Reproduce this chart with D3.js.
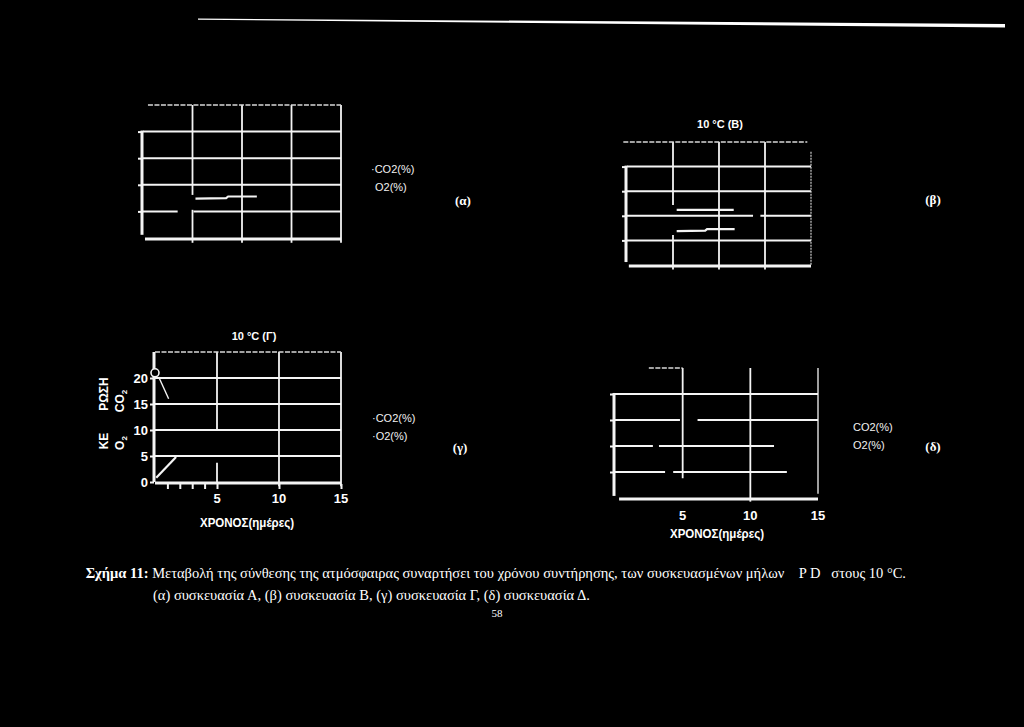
<!DOCTYPE html>
<html>
<head>
<meta charset="utf-8">
<script src="https://cdn.jsdelivr.net/npm/d3@7"></script>
<style>
  html, body { margin: 0; padding: 0; background: #000; }
  svg { display: block; }
  .narrow { font-family: "Liberation Sans Narrow", "Arial Narrow", "Liberation Sans", sans-serif; font-weight: bold; fill: #fff; }
  .sans { font-family: "Liberation Sans", Arial, sans-serif; fill: #f2f2f2; }
  .serif { font-family: "Liberation Serif", "Times New Roman", serif; fill: #fff; }
</style>
</head>
<body>
<div id="fig"></div>
<script>
// ------------------------
// values (days on x, % on y)
// ------------------------
const gridValues = [5, 10, 15, 20];          // horizontal grid lines
const dayGridLong = [5, 10, 15, 20];         // panels (α), (β)
const dayGridShort = [5, 10, 15];            // panels (γ), (δ)
const yTickLabels = [0, 5, 10, 15, 20];      // only readable on (γ)
const xTickLabels = [5, 10, 15];
const dayMinorTicks = [1, 2, 3, 4];
const legendSeries = ["CO2(%)", "O2(%)"];

// what is left of the curves in the scan
const o2A = [[5.3, 7.4], [8.4, 7.5], [8.6, 7.8], [11.5, 7.8]];
const o2B = [[5.4, 11.2], [11.6, 11.2]];
const co2B = [[5.4, 6.9], [8.5, 7.0], [8.7, 7.3], [11.7, 7.3]];
const o2G = [[0.3, 20.2], [1.1, 16]];
const co2G = [[0.1, 0.8], [1.7, 4.8]];
const startG = [[0, 21]];

// broken grid pieces: [value, from, to]
const hGridA = [[20, 0, 20], [15, 0, 20], [10, 0, 20], [5, 0, 3.5], [5, 5.1, 20]];
const vGridA = [[5, 25, 8.1], [5, 5.3, -0.9], [10, 25, -0.9], [15, 25, -0.9], [20, 25, -0.9]];
const hGridB = [[20, 0, 20], [15, 0, 20], [10, 0, 13.7], [10, 14.5, 20], [5, 0, 20]];
const vGridB = [[5, 25, 12.2], [5, 6.1, -0.9], [10, 25, -0.9], [15, 25, -0.9]];
const hGridG = [[20, 0, 15], [15, 0, 15], [10, 0, 15], [5, 0, 15]];
const vGridG = [[5, 25, 10], [5, 3.7, 0], [10, 25, -0.8], [15, 25, -0.8]];
const hGridD = [[20, 0, 15], [15, 0, 4.8], [15, 6.1, 15], [10, 0, 2.8], [10, 3.25, 11.75], [5, 0, 3.7], [5, 4.3, 12.7]];
const vGridD = [[5, 25, 3.8], [10, 25, -0.7]];

const figLabels = ["(α)", "(β)", "(γ)", "(δ)"];
const captionLine1 = ["Σχήμα 11:", " Μεταβολή της σύνθεσης της ατμόσφαιρας συναρτήσει του χρόνου συντήρησης, των συσκευασμένων μήλων    P D   στους 10 °C."];
const captionLine2 = "(α) συσκευασία Α, (β) συσκευασία Β, (γ) συσκευασία Γ, (δ) συσκευασία Δ.";
const pageNumber = "58";

// ------------------------
// layout of the four small plots
// ------------------------
const panels = {
  a: { x: [143, 341], y: [238, 105], xMax: 20 },
  b: { x: [627, 811], y: [265, 142], xMax: 20 },
  g: { x: [155, 341], y: [482, 352], xMax: 15 },
  d: { x: [615, 818], y: [498, 368], xMax: 15 }
};
Object.values(panels).forEach(p => {
  p.sx = d3.scaleLinear().domain([0, p.xMax]).range(p.x);
  p.sy = d3.scaleLinear().domain([0, 25]).range(p.y);
});

const svg = d3.select("#fig").append("svg")
  .attr("width", 1024).attr("height", 727)
  .style("background", "#000");

// scanned rule at the top of the page
svg.append("polygon")
  .attr("points", "198,18.5 1005,24 1005,27.5 198,19.8")
  .attr("fill", "#fff");

const white = "#f4f4f4";

function hGrid(p, rows, w) {
  svg.append("g").selectAll("line").data(rows).join("line")
    .attr("x1", d => p.sx(d[1])).attr("x2", d => p.sx(d[2]))
    .attr("y1", d => p.sy(d[0])).attr("y2", d => p.sy(d[0]))
    .attr("stroke", white).attr("stroke-width", w || 2);
}
function vGrid(p, cols, w) {
  svg.append("g").selectAll("line").data(cols).join("line")
    .attr("x1", d => p.sx(d[0])).attr("x2", d => p.sx(d[0]))
    .attr("y1", d => p.sy(d[1])).attr("y2", d => p.sy(d[2]))
    .attr("stroke", white).attr("stroke-width", w || 1.8);
}
function frame(p, opts) {
  // y axis
  svg.append("line")
    .attr("x1", p.sx(0) - 1).attr("x2", p.sx(0) - 1)
    .attr("y1", p.sy(opts.yTop)).attr("y2", p.sy(opts.yBottom))
    .attr("stroke", white).attr("stroke-width", 3);
  svg.append("g").attr("transform", `translate(${p.sx(0) - 1},0)`)
    .call(d3.axisLeft(p.sy).tickValues(opts.yTicks).tickSize(4).tickFormat(opts.yFormat || (() => "")))
    .call(g => g.select(".domain").remove())
    .call(g => g.selectAll(".tick line").attr("stroke", white).attr("stroke-width", 2))
    .call(g => g.selectAll(".tick text").attr("class", "narrow").attr("fill", "#fff")
      .style("font-size", "13px").attr("x", -6));
  // x axis
  svg.append("line")
    .attr("x1", p.sx(opts.xStart)).attr("x2", p.sx(p.xMax))
    .attr("y1", p.sy(0) + 1).attr("y2", p.sy(0) + 1)
    .attr("stroke", white).attr("stroke-width", 3);
  // dashed top border
  svg.append("line")
    .attr("x1", p.sx(opts.top[0])).attr("x2", p.sx(opts.top[1]))
    .attr("y1", p.sy(25)).attr("y2", p.sy(25))
    .attr("stroke", "#d8d8d8").attr("stroke-width", 1.6).attr("stroke-dasharray", "5,1.5");
}

const lineGen = p => d3.line().x(d => p.sx(d[0])).y(d => p.sy(d[1]));

// ---------- (α)
const A = panels.a;
hGrid(A, hGridA);
vGrid(A, vGridA);
frame(A, { yTop: 20.2, yBottom: 0.6, yTicks: gridValues, xStart: 0.2, top: [0.5, 20] });
svg.append("path").datum(o2A).attr("d", lineGen(A))
  .attr("fill", "none").attr("stroke", white).attr("stroke-width", 2.2);

// ---------- (β)
const B = panels.b;
hGrid(B, hGridB);
vGrid(B, vGridB);
frame(B, { yTop: 20.2, yBottom: 0.6, yTicks: gridValues, xStart: 0.2, top: [-0.4, 19.6] });
svg.append("line")
  .attr("x1", B.sx(20)).attr("x2", B.sx(20))
  .attr("y1", B.sy(23)).attr("y2", B.sy(0))
  .attr("stroke", "#cfcfcf").attr("stroke-width", 1.2).attr("stroke-dasharray", "2,1");
[o2B, co2B].forEach(s => svg.append("path").datum(s).attr("d", lineGen(B))
  .attr("fill", "none").attr("stroke", white).attr("stroke-width", 2.2));
svg.append("text").attr("class", "narrow").attr("x", 720).attr("y", 128)
  .attr("text-anchor", "middle").style("font-size", "11px").text("10 °C (B)");

// ---------- (γ)
const G = panels.g;
hGrid(G, hGridG);
vGrid(G, vGridG);
frame(G, { yTop: 25, yBottom: 0, yTicks: yTickLabels, yFormat: d3.format("d"), xStart: 0, top: [0, 15] });
svg.append("g").attr("transform", `translate(0,${G.sy(0) + 2})`)
  .call(d3.axisBottom(G.sx).tickValues(dayMinorTicks.concat(xTickLabels)).tickSize(5).tickFormat(() => ""))
  .call(g => g.select(".domain").remove())
  .call(g => g.selectAll(".tick line").attr("stroke", white).attr("stroke-width", 2));
svg.append("g").selectAll("text").data(xTickLabels).join("text")
  .attr("class", "narrow").attr("x", d => G.sx(d)).attr("y", G.sy(0) + 21)
  .attr("text-anchor", "middle").style("font-size", "13px").text(d => d);
svg.append("path").datum(o2G).attr("d", lineGen(G))
  .attr("fill", "none").attr("stroke", white).attr("stroke-width", 1.4);
svg.append("path").datum(co2G).attr("d", lineGen(G))
  .attr("fill", "none").attr("stroke", white).attr("stroke-width", 2.2);
svg.append("g").selectAll("circle").data(startG).join("circle")
  .attr("cx", d => G.sx(d[0])).attr("cy", d => G.sy(d[1])).attr("r", 4)
  .attr("fill", "#000").attr("stroke", white).attr("stroke-width", 1.6);
svg.append("text").attr("class", "narrow").attr("x", 254).attr("y", 340)
  .attr("text-anchor", "middle").style("font-size", "11px").text("10 °C (Γ)");
svg.append("text").attr("class", "narrow").attr("x", 200).attr("y", 527)
  .attr("textLength", 94).attr("lengthAdjust", "spacingAndGlyphs")
  .style("font-size", "13px").text("ΧΡΟΝΟΣ(ημέρες)");
// y title, rotated
[["ΚΕ", 104, 441], ["ΡΩΣΗ", 104, 394], ["O", 120, 443], ["CO", 120, 401]].forEach(([t, x, y]) => {
  const tx = svg.append("text").attr("class", "narrow")
    .attr("transform", `translate(${x + 4},${y}) rotate(-90)`)
    .attr("text-anchor", "middle").style("font-size", "12px").text(t);
  if (t === "O" || t === "CO") tx.append("tspan").attr("dy", 3).style("font-size", "8px").text("2");
});

// ---------- (δ)
const D = panels.d;
hGrid(D, hGridD);
vGrid(D, vGridD);
svg.append("line")
  .attr("x1", D.sx(15)).attr("x2", D.sx(15))
  .attr("y1", D.sy(25)).attr("y2", D.sy(0.8))
  .attr("stroke", white).attr("stroke-width", 1.3);
frame(D, { yTop: 20.2, yBottom: 0.4, yTicks: gridValues, xStart: 0.3, top: [2.5, 5] });
svg.append("g").selectAll("text").data(xTickLabels).join("text")
  .attr("class", "narrow").attr("x", d => D.sx(d)).attr("y", D.sy(0) + 22)
  .attr("text-anchor", "middle").style("font-size", "13px").text(d => d);
svg.append("text").attr("class", "narrow").attr("x", 670).attr("y", 538)
  .attr("textLength", 94).attr("lengthAdjust", "spacingAndGlyphs")
  .style("font-size", "13px").text("ΧΡΟΝΟΣ(ημέρες)");

// ---------- legends and panel letters
const legends = [
  { x: 371, y: 173, dot: true },
  { x: 372, y: 422, dot: true },
  { x: 853, y: 431, dot: false }
];
legends.forEach((l, li) => {
  svg.append("g").selectAll("text").data(legendSeries).join("text")
    .attr("class", "sans").attr("x", (d, i) => l.x + (li === 0 && i === 1 ? 4 : 0))
    .attr("y", (d, i) => l.y + i * 18)
    .style("font-size", "11px")
    .text((d, i) => (l.dot && !(li === 0 && i === 1) ? "·" : "") + d);
});
const letterPos = [[463, 205], [933, 204], [460, 452], [933, 451]];
svg.append("g").selectAll("text").data(figLabels).join("text")
  .attr("class", "serif").attr("x", (d, i) => letterPos[i][0]).attr("y", (d, i) => letterPos[i][1])
  .attr("text-anchor", "middle").style("font-size", "13px").style("font-weight", "bold")
  .text(d => d);

// ---------- caption
const cap = svg.append("text").attr("class", "serif")
  .attr("x", 906).attr("y", 578).attr("text-anchor", "end").attr("xml:space", "preserve")
  .style("font-size", "14.5px").style("white-space", "pre");
cap.append("tspan").style("font-weight", "bold").text(captionLine1[0]);
cap.append("tspan").text(captionLine1[1]);
svg.append("text").attr("class", "serif").attr("x", 153).attr("y", 600)
  .style("font-size", "14.5px").text(captionLine2);
svg.append("text").attr("class", "serif").attr("x", 497).attr("y", 617)
  .attr("text-anchor", "middle").style("font-size", "11px").text(pageNumber);
</script>
</body>
</html>
